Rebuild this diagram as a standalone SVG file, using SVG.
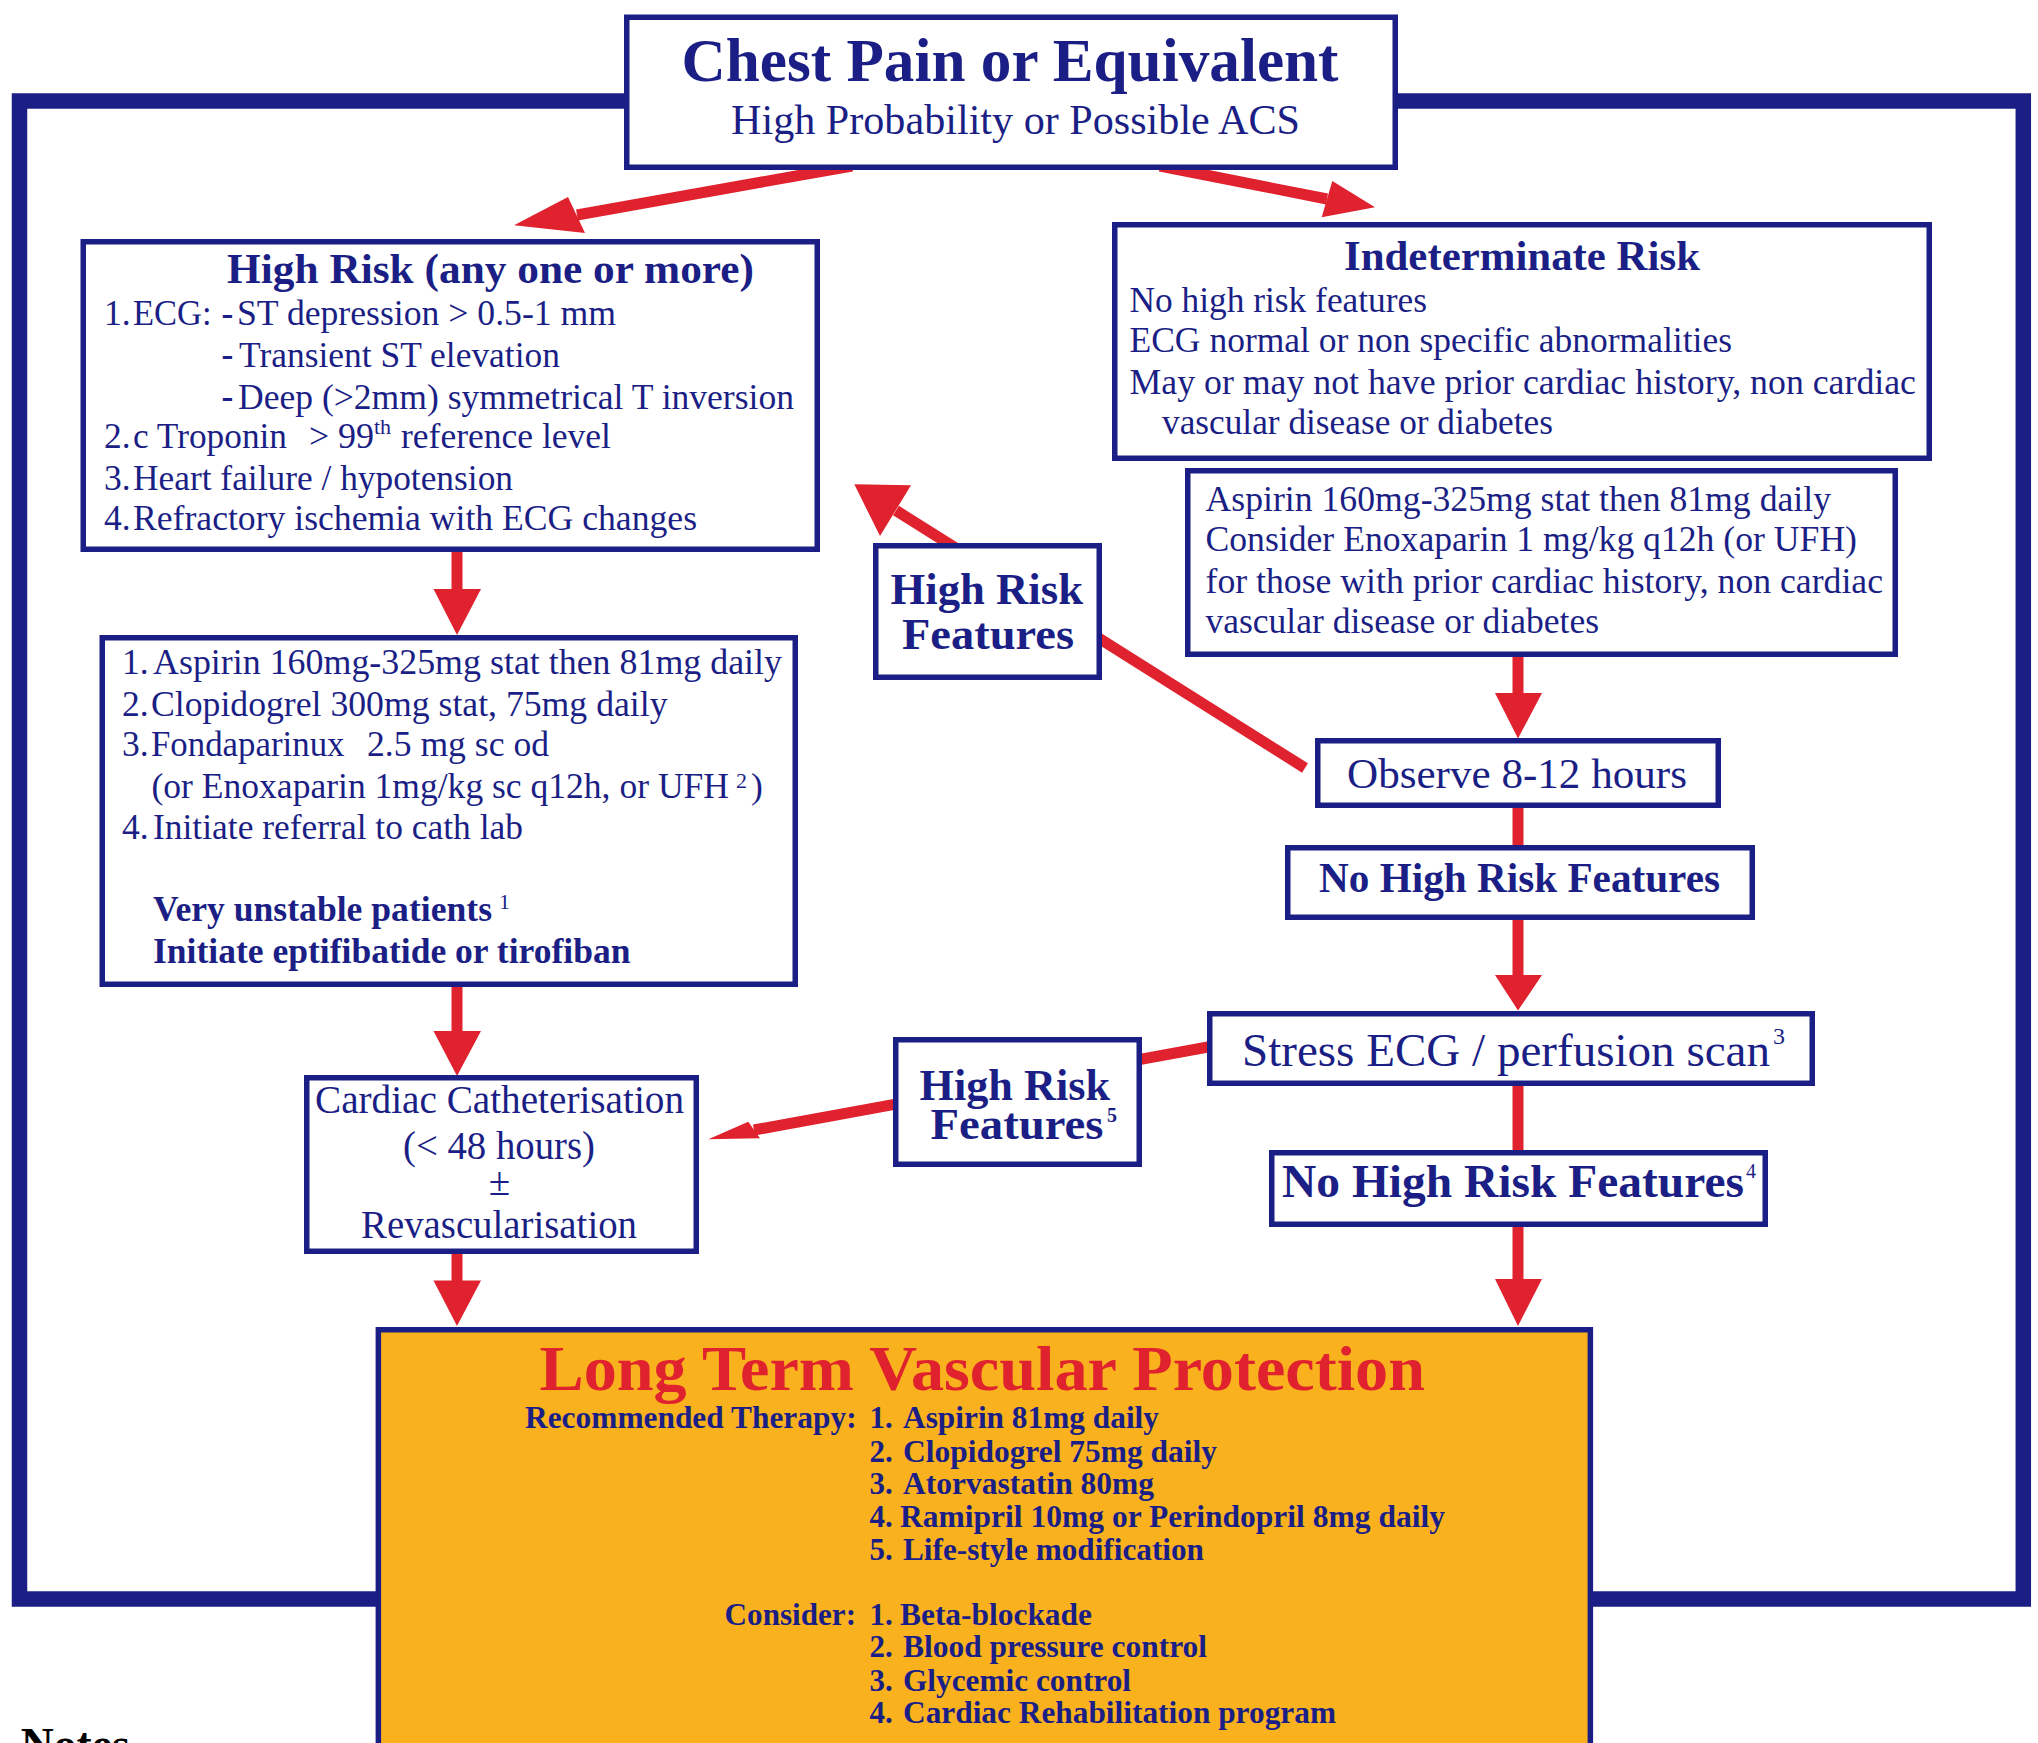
<svg xmlns="http://www.w3.org/2000/svg" width="2038" height="1743" viewBox="0 0 2038 1743">
<style>
.frame{fill:none;stroke:#1b1f85;stroke-width:15.5}
.box{fill:#fff;stroke:#1b1f85;stroke-width:5.5}
.obox{fill:#f9b21e;stroke:#1b1f85;stroke-width:5.5}
.ln{stroke:#e0222e;stroke-width:11;fill:none}
.hd{fill:#e0222e}
text{font-family:"Liberation Serif","Times New Roman",serif;fill:#1b1f85}
.bd{font-weight:bold}
.s35{font-size:35.5px}
.s31{font-size:31px;font-weight:bold}
.sup{font-size:22px}
</style>
<rect class="frame" x="19.5" y="101" width="2003.8" height="1498"/>
<g id="connectors">
  <line class="ln" x1="852" y1="166" x2="577" y2="215" stroke-width="10"/>
  <polygon class="hd" points="514,225.3 568,197 585,233"/>
  <line class="ln" x1="1160" y1="166" x2="1327" y2="199"/>
  <polygon class="hd" points="1375,207.3 1332.3,181 1321.7,217.3"/>
  <line class="ln" x1="457" y1="550" x2="457" y2="591" stroke-width="12"/>
  <polygon class="hd" points="433.5,589 481,589 457,635"/>
  <line class="ln" x1="457" y1="985" x2="457" y2="1033" stroke-width="12"/>
  <polygon class="hd" points="433.5,1031 481,1031 457,1076"/>
  <line class="ln" x1="457" y1="1252" x2="457" y2="1282" stroke-width="12"/>
  <polygon class="hd" points="433.5,1280.5 481,1280.5 457,1326"/>
  <line class="ln" x1="1518" y1="655" x2="1518" y2="695" stroke-width="12"/>
  <polygon class="hd" points="1495,693 1542,693 1518,738.5"/>
  <line class="ln" x1="1518" y1="806" x2="1518" y2="848" stroke-width="12"/>
  <line class="ln" x1="1518" y1="918" x2="1518" y2="977" stroke-width="12"/>
  <polygon class="hd" points="1495,975 1542,975 1518,1010.5"/>
  <line class="ln" x1="1518" y1="1084" x2="1518" y2="1152" stroke-width="12"/>
  <line class="ln" x1="1518" y1="1225" x2="1518" y2="1281" stroke-width="12"/>
  <polygon class="hd" points="1495,1279 1542,1279 1518,1326"/>
  <line class="ln" x1="1305" y1="768" x2="896" y2="510.5"/>
  <polygon class="hd" points="854.3,484.3 911,485.3 880,536"/>
  <line class="ln" x1="1208" y1="1047" x2="754" y2="1130" stroke-width="10"/>
  <polygon class="hd" points="708.3,1139.3 748.3,1121.7 760,1138.3"/>
</g>
<g id="top">
  <rect class="box" x="626.75" y="17.25" width="768.5" height="150"/>
  <text class="bd" x="681.5" y="80.5" font-size="62" textLength="657" lengthAdjust="spacingAndGlyphs">Chest Pain or Equivalent</text>
  <text x="731" y="134" font-size="42" textLength="569" lengthAdjust="spacingAndGlyphs">High Probability or Possible ACS</text>
</g>
<g id="high-risk">
  <rect class="box" x="83.25" y="241.75" width="734" height="307.5"/>
  <text class="bd" x="227" y="282.5" font-size="42" textLength="527" lengthAdjust="spacingAndGlyphs">High Risk (any one or more)</text>
  <g class="s35">
    <text x="104" y="325">1.</text>
    <text x="133" y="325" textLength="78.5" lengthAdjust="spacingAndGlyphs">ECG:</text>
    <text class="bd" x="221.5" y="325">-</text>
    <text x="237" y="325" textLength="379" lengthAdjust="spacingAndGlyphs">ST depression &gt; 0.5-1 mm</text>
    <text class="bd" x="221.5" y="366">-</text>
    <text x="239" y="366.5" textLength="321" lengthAdjust="spacingAndGlyphs">Transient ST elevation</text>
    <text class="bd" x="221.5" y="408">-</text>
    <text x="238" y="408.5" textLength="556" lengthAdjust="spacingAndGlyphs">Deep (&gt;2mm) symmetrical T inversion</text>
    <text x="104" y="448">2.</text>
    <text x="133" y="448" textLength="154" lengthAdjust="spacingAndGlyphs">c Troponin</text>
    <text x="309" y="448">&gt;</text>
    <text x="338" y="448" textLength="36" lengthAdjust="spacingAndGlyphs">99</text>
    <text x="374" y="434" class="sup">th</text>
    <text x="401" y="448" textLength="210" lengthAdjust="spacingAndGlyphs">reference level</text>
    <text x="104" y="490">3.</text>
    <text x="133" y="490" textLength="380" lengthAdjust="spacingAndGlyphs">Heart failure / hypotension</text>
    <text x="104" y="530">4.</text>
    <text x="133" y="530" textLength="564" lengthAdjust="spacingAndGlyphs">Refractory ischemia with ECG changes</text>
  </g>
</g>
<g id="indeterminate">
  <rect class="box" x="1114.75" y="224.75" width="814.5" height="233.5"/>
  <text class="bd" x="1344" y="270" font-size="43" textLength="356" lengthAdjust="spacingAndGlyphs">Indeterminate Risk</text>
  <g class="s35">
    <text x="1129.5" y="312" textLength="297.5" lengthAdjust="spacingAndGlyphs">No high risk features</text>
    <text x="1129.5" y="352" textLength="602.5" lengthAdjust="spacingAndGlyphs">ECG normal or non specific abnormalities</text>
    <text x="1129.5" y="394" textLength="786.5" lengthAdjust="spacingAndGlyphs">May or may not have prior cardiac history, non cardiac</text>
    <text x="1162" y="434" textLength="391" lengthAdjust="spacingAndGlyphs">vascular disease or diabetes</text>
  </g>
</g>
<g id="indeterminate-therapy">
  <rect class="box" x="1187.75" y="470.75" width="707.5" height="183.5"/>
  <g class="s35">
    <text x="1205.5" y="511" textLength="625.5" lengthAdjust="spacingAndGlyphs">Aspirin 160mg-325mg stat then 81mg daily</text>
    <text x="1205.5" y="551" textLength="651.5" lengthAdjust="spacingAndGlyphs">Consider Enoxaparin 1 mg/kg q12h (or UFH)</text>
    <text x="1205.5" y="592.5" textLength="677.5" lengthAdjust="spacingAndGlyphs">for those with prior cardiac history, non cardiac</text>
    <text x="1205.5" y="632.5" textLength="393.5" lengthAdjust="spacingAndGlyphs">vascular disease or diabetes</text>
  </g>
</g>
<g id="high-risk-therapy">
  <rect class="box" x="102.25" y="637.75" width="693" height="346.5"/>
  <g class="s35">
    <text x="122" y="674">1.</text>
    <text x="153" y="674" textLength="629" lengthAdjust="spacingAndGlyphs">Aspirin 160mg-325mg stat then 81mg daily</text>
    <text x="122" y="716">2.</text>
    <text x="151" y="716" textLength="516.5" lengthAdjust="spacingAndGlyphs">Clopidogrel 300mg stat, 75mg daily</text>
    <text x="122" y="756">3.</text>
    <text x="151" y="756" textLength="193.5" lengthAdjust="spacingAndGlyphs">Fondaparinux</text>
    <text x="367" y="756" textLength="182" lengthAdjust="spacingAndGlyphs">2.5 mg sc od</text>
    <text x="151.5" y="797.5" textLength="577.5" lengthAdjust="spacingAndGlyphs">(or Enoxaparin 1mg/kg sc q12h, or UFH</text>
    <text x="736" y="788" class="sup">2</text>
    <text x="751" y="797.5">)</text>
    <text x="122" y="839">4.</text>
    <text x="153" y="839" textLength="370" lengthAdjust="spacingAndGlyphs">Initiate referral to cath lab</text>
    <text class="bd" x="153" y="921" textLength="339" lengthAdjust="spacingAndGlyphs">Very unstable patients</text>
    <text x="499" y="909" class="sup">1</text>
    <text class="bd" x="153" y="963" textLength="477.5" lengthAdjust="spacingAndGlyphs">Initiate eptifibatide or tirofiban</text>
  </g>
</g>
<g id="cath">
  <rect class="box" x="306.75" y="1077.75" width="389.5" height="173.5"/>
  <text x="315" y="1112.5" font-size="39" textLength="369" lengthAdjust="spacingAndGlyphs">Cardiac Catheterisation</text>
  <text x="403" y="1159" font-size="39" textLength="192" lengthAdjust="spacingAndGlyphs">(&lt; 48 hours)</text>
  <text x="499.5" y="1195" font-size="39" text-anchor="middle">±</text>
  <text x="361" y="1237.5" font-size="39" textLength="276" lengthAdjust="spacingAndGlyphs">Revascularisation</text>
</g>
<g id="hrf-upper">
  <rect class="box" x="875.75" y="545.75" width="223.5" height="131.5"/>
  <text class="bd" x="890.5" y="603.5" font-size="45" textLength="192.5" lengthAdjust="spacingAndGlyphs">High Risk</text>
  <text class="bd" x="902" y="649" font-size="45" textLength="172" lengthAdjust="spacingAndGlyphs">Features</text>
</g>
<g id="hrf-lower">
  <rect class="box" x="895.75" y="1039.75" width="243.5" height="124.5"/>
  <text class="bd" x="919.5" y="1100" font-size="45" textLength="190.5" lengthAdjust="spacingAndGlyphs">High Risk</text>
  <text class="bd" x="930.5" y="1139" font-size="45" textLength="173" lengthAdjust="spacingAndGlyphs">Features</text>
  <text class="bd" x="1107" y="1121.5" font-size="20">5</text>
</g>
<g id="observe">
  <rect class="box" x="1317.75" y="740.75" width="400.5" height="64.5"/>
  <text x="1347" y="788" font-size="43" textLength="340" lengthAdjust="spacingAndGlyphs">Observe 8-12 hours</text>
</g>
<g id="no-hrf">
  <rect class="box" x="1287.75" y="847.75" width="464.5" height="69.5"/>
  <text class="bd" x="1319" y="891.5" font-size="42" textLength="401" lengthAdjust="spacingAndGlyphs">No High Risk Features</text>
</g>
<g id="stress">
  <rect class="box" x="1209.75" y="1013.75" width="602.5" height="69.5"/>
  <text x="1242" y="1065.5" font-size="47" textLength="528" lengthAdjust="spacingAndGlyphs">Stress ECG / perfusion scan</text>
  <text x="1773" y="1044" font-size="24">3</text>
</g>
<g id="no-hrf-4">
  <rect class="box" x="1271.75" y="1152.75" width="493.5" height="71.5"/>
  <text class="bd" x="1282" y="1197" font-size="47" textLength="462" lengthAdjust="spacingAndGlyphs">No High Risk Features</text>
  <text x="1746" y="1177.5" font-size="20">4</text>
</g>
<g id="long-term">
  <rect class="obox" x="378.35" y="1329.75" width="1212" height="500"/>
  <text class="bd" x="539.5" y="1390" font-size="64" fill="#e0222e" style="fill:#e0222e" textLength="885.5" lengthAdjust="spacingAndGlyphs">Long Term Vascular Protection</text>
  <g class="s31">
    <text x="525" y="1428.3" textLength="331.6" lengthAdjust="spacingAndGlyphs">Recommended Therapy:</text>
    <text x="869.6" y="1428.3">1.</text>
    <text x="903" y="1428.3" textLength="256" lengthAdjust="spacingAndGlyphs">Aspirin 81mg daily</text>
    <text x="869.6" y="1461.7">2.</text>
    <text x="903" y="1461.7" textLength="314" lengthAdjust="spacingAndGlyphs">Clopidogrel 75mg daily</text>
    <text x="869.6" y="1494.3">3.</text>
    <text x="903" y="1494.3" textLength="251" lengthAdjust="spacingAndGlyphs">Atorvastatin 80mg</text>
    <text x="869.6" y="1526.7">4.</text>
    <text x="900" y="1526.7" textLength="545" lengthAdjust="spacingAndGlyphs">Ramipril 10mg or Perindopril 8mg daily</text>
    <text x="869.6" y="1560">5.</text>
    <text x="903" y="1560" textLength="301" lengthAdjust="spacingAndGlyphs">Life-style modification</text>
    <text x="724.6" y="1625" textLength="131.4" lengthAdjust="spacingAndGlyphs">Consider:</text>
    <text x="869.6" y="1625">1.</text>
    <text x="900" y="1625" textLength="192" lengthAdjust="spacingAndGlyphs">Beta-blockade</text>
    <text x="869.6" y="1657.3">2.</text>
    <text x="903" y="1657.3" textLength="304" lengthAdjust="spacingAndGlyphs">Blood pressure control</text>
    <text x="869.6" y="1690.7">3.</text>
    <text x="903" y="1690.7" textLength="228" lengthAdjust="spacingAndGlyphs">Glycemic control</text>
    <text x="869.6" y="1722.7">4.</text>
    <text x="903" y="1722.7" textLength="433" lengthAdjust="spacingAndGlyphs">Cardiac Rehabilitation program</text>
  </g>
</g>
<text class="bd" x="20.7" y="1760" font-size="46" style="fill:#000" textLength="109" lengthAdjust="spacingAndGlyphs">Notes</text>
</svg>
